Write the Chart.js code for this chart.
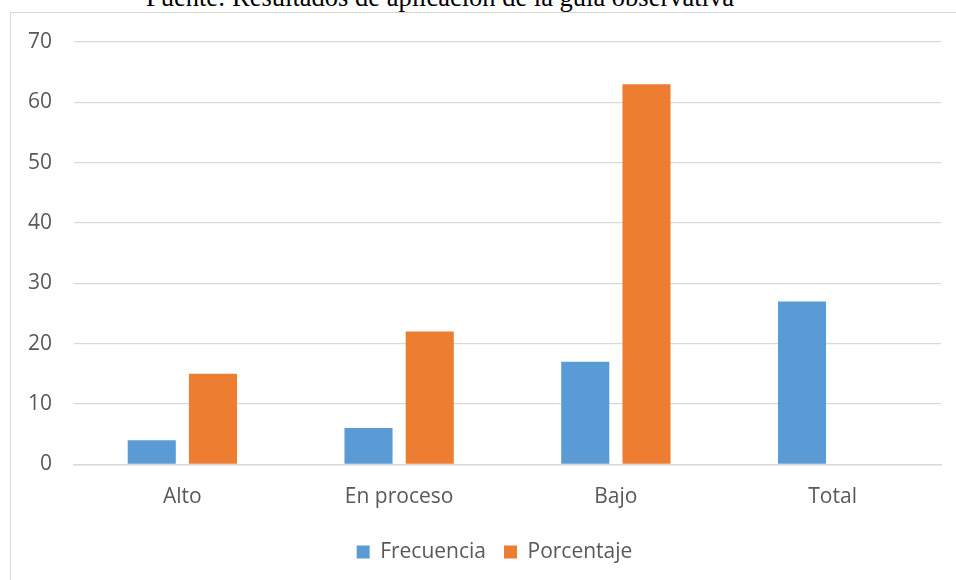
<!DOCTYPE html>
<html>
<head>
<meta charset="utf-8">
<script src="https://cdn.jsdelivr.net/npm/chart.js@4/dist/chart.umd.min.js"></script>
<style>
  html, body { margin: 0; padding: 0; background: #fff; overflow: hidden; }
  #frame { position: absolute; left: 10px; top: 12px; width: 980px; height: 620px; border: 1px solid #d9d9d9; }
  #fuente { position: absolute; left: 146px; top: -16px; font: 26.5px/26px "Liberation Serif", "Times New Roman", serif; color: #000; white-space: nowrap; }
  #wrap { position: absolute; left: 0; top: 0; width: 956px; height: 580px; }
</style>
</head>
<body>
<div id="frame"></div>
<div id="fuente">Fuente: Resultados de aplicación de la guía observativa</div>
<div id="wrap"><canvas id="chart"></canvas></div>
<script>
// valores
const categorias = ['Alto', 'En proceso', 'Bajo', 'Total'];
const frecuencia = [4, 6, 17, 27];
const porcentaje = [15, 22, 63, null];
const yMin = 0, yMax = 70, yStep = 10;

const gris = '#595959';
const font = { family: '"Open Sans", sans-serif', size: 21 };

// la leyenda de Excel queda algo más a la derecha que la de Chart.js
const moverLeyenda = {
  id: 'moverLeyenda',
  afterLayout(chart) {
    const lg = chart.legend;
    if (!lg) return;
    lg.left += 24;
    lg.right += 24;
  },
};

new Chart(document.getElementById('chart'), {
  type: 'bar',
  data: {
    labels: categorias,
    datasets: [
      { label: 'Frecuencia', data: frecuencia, backgroundColor: '#5B9BD5' },
      { label: 'Porcentaje', data: porcentaje, backgroundColor: '#ED7D31' },
    ],
  },
  options: {
    responsive: true,
    maintainAspectRatio: false,
    animation: false,
    categoryPercentage: 0.565,
    barPercentage: 0.785,
    layout: { padding: { top: 42, right: 15, bottom: 7.5, left: 0 } },
    plugins: {
      tooltip: { enabled: false },
      legend: {
        position: 'bottom',
        labels: { color: gris, font, boxWidth: 13, boxHeight: 13, padding: 18 },
      },
    },
    scales: {
      x: {
        grid: { display: false, drawTicks: false },
        border: { display: true, color: '#d9d9d9', width: 1.5 },
        ticks: { color: gris, font, padding: 20 },
        afterFit: s => { s.height = 59.2; },
      },
      y: {
        min: yMin,
        max: yMax,
        grid: { color: '#d9d9d9', lineWidth: 1.3, drawTicks: false },
        border: { display: false },
        ticks: { color: gris, font, padding: 22, stepSize: yStep },
        afterFit: s => { s.width = 74; },
      },
    },
  },
  plugins: [moverLeyenda],
});
</script>
</body>
</html>
